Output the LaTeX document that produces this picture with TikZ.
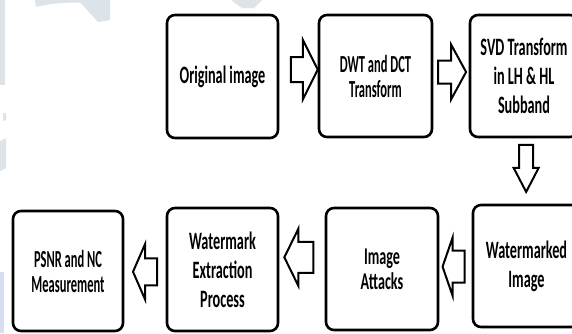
\documentclass[tikz,border=0pt]{standalone}
\usepackage{fontspec}
\usetikzlibrary{calc}
\newfontfamily\wideface[FakeStretch=0.57]{Carlito}
\newfontfamily\midface[FakeStretch=0.59]{Carlito}
\newfontfamily\narrowface[FakeStretch=0.51]{Carlito}
\definecolor{wmgrey}{HTML}{DCE3E9}
\definecolor{wmlav}{HTML}{D9DDF4}
\tikzset{
  stagebox/.style={draw=black, line width=2.6pt, rounded corners=8pt, fill=white,
    align=center, inner sep=2pt},
  widetext/.style={font=\wideface\bfseries\fontsize{25}{29}\selectfont},
  midtext/.style={font=\midface\bfseries\fontsize{24}{25}\selectfont},
  narrowtext/.style={font=\narrowface\bfseries\fontsize{24.5}{25}\selectfont},
  arrowline/.style={draw=black, line width=2pt, fill=white, line join=miter},
  % hollow block arrow pointing along +x: total length, head length, shaft width, head width
  pics/blockarrow/.style n args={4}{code={
    \path[arrowline] (-#1/2,-#3/2) -- (#1/2-#2,-#3/2) -- (#1/2-#2,-#4/2) -- (#1/2,0)
      -- (#1/2-#2,#4/2) -- (#1/2-#2,#3/2) -- (-#1/2,#3/2) -- cycle;
  }}
}
\begin{document}
\begin{tikzpicture}[x=1pt,y=-1pt]
\useasboundingbox (0,0) rectangle (572,333);
\clip (0,0) rectangle (572,333);
\fill[white] (0,0) rectangle (572,333);

% faint background lettering
\begin{scope}[fill=wmgrey]
  \fill (0,0) rectangle (4.5,85);
  \fill (35,0) -- (92,0) -- (84,3) .. controls (70,2) and (50,3) .. (36,7) -- cycle;
  \fill (78,0) -- (110,0) -- (110,20) -- (98,22) -- cycle;
  \fill (231,0) -- (262,0) -- (254,8) -- (242,8) -- cycle;
  \fill (3,113) -- (6,113) -- (6,120) -- (3,121) -- cycle;
  \fill (0,141) -- (6,138) -- (6,168) -- (0,171) -- cycle;
\end{scope}
\fill[wmlav] (0,272) rectangle (4,333);

% processing stages
\node[stagebox, widetext, minimum width=111, minimum height=123] (orig) at (222.5,76.5) {Original image};
\node[stagebox, narrowtext, minimum width=113, minimum height=122] (dwt) at (375.5,76) {DWT and DCT\\Transform};
\node[stagebox, widetext, minimum width=108, minimum height=122] (svd) at (524,76) {SVD Transform\\in LH \& HL\\Subband};
\node[stagebox, widetext, minimum width=107, minimum height=122] (wmk) at (526.5,266) {Watermarked\\Image};
\node[stagebox, midtext, minimum width=112, minimum height=122] (att) at (382,269) {Image\\Attacks};
\node[stagebox, widetext, minimum width=111, minimum height=123] (ext) at (222.5,269.5) {Watermark\\Extraction\\Process};
\node[stagebox, narrowtext, minimum width=110, minimum height=120] (psnr) at (68,271) {PSNR and NC\\Measurement};

% flow arrows
\pic at ($(orig.east)!0.65!(dwt.west)+(0,-6.5)$) {blockarrow={27}{15}{25}{60}};
\pic at ($(dwt.east)!0.53!(svd.west)+(0,-4)$) {blockarrow={28}{15}{23}{55}};
\pic[rotate=-90] at ($(svd.south)!0.46!(wmk.north)+(1,0)$) {blockarrow={47}{24}{14}{25}};
\pic[rotate=180] at ($(wmk.west)!0.56!(att.east)+(0,-1)$) {blockarrow={22}{10}{32}{58}};
\pic[rotate=180] at ($(att.west)!0.57!(ext.east)+(0,-12)$) {blockarrow={29}{14}{31}{57}};
\pic[rotate=180] at ($(ext.west)!0.5!(psnr.east)+(0,1.5)$) {blockarrow={24}{12}{27}{55}};
\end{tikzpicture}
\end{document}
